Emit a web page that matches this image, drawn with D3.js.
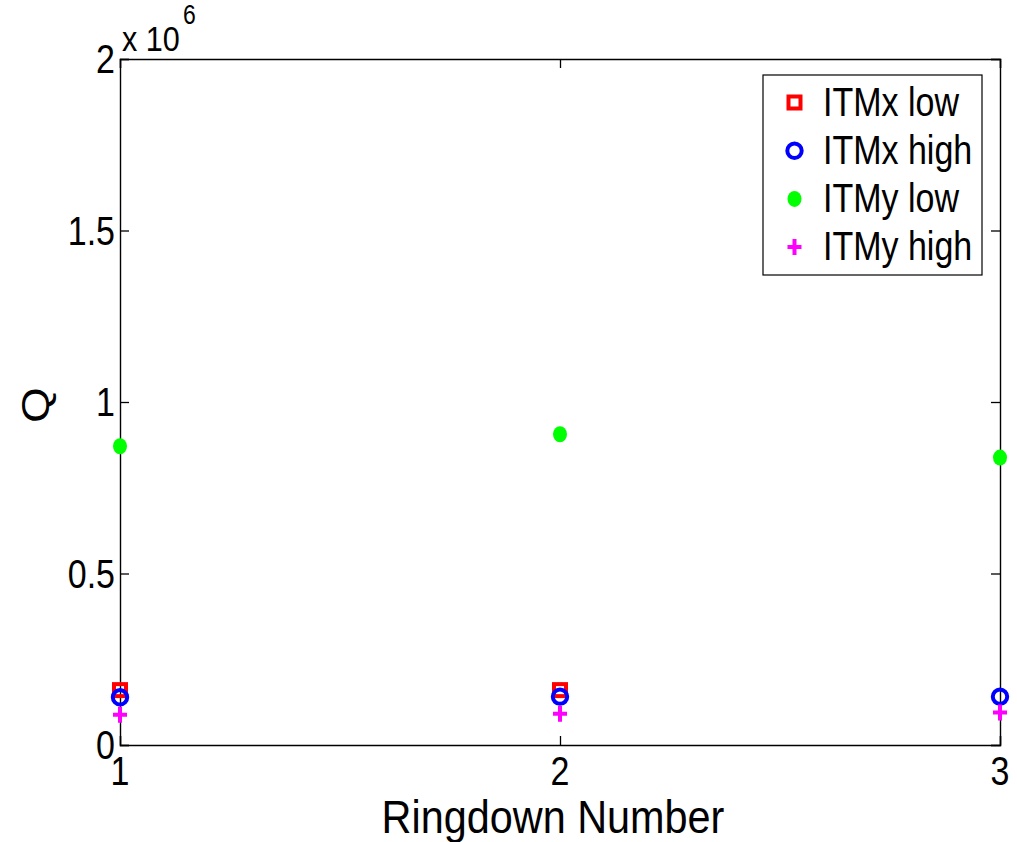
<!DOCTYPE html>
<html>
<head>
<meta charset="utf-8">
<script src="https://cdn.jsdelivr.net/npm/d3@7"></script>
<style>
  html, body { margin: 0; padding: 0; background: #fff; }
  svg { display: block; }
  text { font-family: "Liberation Sans", Arial, Helvetica, sans-serif; fill: #000; }
</style>
</head>
<body>
<svg id="chart" width="1017" height="842"></svg>
<script>
// Ringdown measurements of Q for each test-mass mode
const ringdowns = [1, 2, 3];
const itmxLow  = [0.160e6, 0.160e6, null];
const itmxHigh = [0.139e6, 0.141e6, 0.141e6];
const itmyLow  = [0.871e6, 0.906e6, 0.838e6];
const itmyHigh = [0.088e6, 0.091e6, 0.095e6];

const seriesNames = ["ITMx low", "ITMx high", "ITMy low", "ITMy high"];
const seriesColors = ["#ff0000", "#0000ff", "#00ff00", "#ff00ff"];
const seriesShapes = ["square", "circle", "dot", "plus"];
const seriesValues = [itmxLow, itmxHigh, itmyLow, itmyHigh];

const xTicks = [1, 2, 3];
const yTicks = [0, 0.5e6, 1e6, 1.5e6, 2e6];
const yTickLabels = ["0", "0.5", "1", "1.5", "2"];

const plot = { left: 120, right: 1000, top: 59, bottom: 745 };
const squeeze = 0.85; // horizontal narrowing of the typeface

const svg = d3.select("#chart");
const x = d3.scaleLinear().domain([1, 3]).range([plot.left, plot.right]);
const y = d3.scaleLinear().domain([0, 2e6]).range([plot.bottom, plot.top]);

function label(parent, px, py, str, size, anchor, rot, sx) {
  return parent.append("text")
    .attr("transform", `translate(${px},${py}) scale(${sx || squeeze},1)` + (rot ? ` rotate(${rot})` : ""))
    .attr("text-anchor", anchor || "start")
    .style("font-size", size + "px")
    .text(str);
}

// axes box with inward ticks on all four sides
const tickLen = 9;
const axBottom = d3.axisBottom(x).tickValues(xTicks).tickSize(-tickLen).tickFormat("");
const axTop = d3.axisTop(x).tickValues(xTicks).tickSize(-tickLen).tickFormat("");
const axLeft = d3.axisLeft(y).tickValues(yTicks).tickSize(-tickLen).tickFormat("");
const axRight = d3.axisRight(y).tickValues(yTicks).tickSize(-tickLen).tickFormat("");

function styleAxis(g) {
  g.selectAll("path.domain").attr("stroke", "#000").attr("stroke-width", 1.4);
  g.selectAll(".tick line").attr("stroke", "#000").attr("stroke-width", 1.3);
}
svg.append("g").attr("transform", `translate(0,${plot.bottom})`).call(axBottom).call(styleAxis);
svg.append("g").attr("transform", `translate(0,${plot.top})`).call(axTop).call(styleAxis);
svg.append("g").attr("transform", `translate(${plot.left},0)`).call(axLeft).call(styleAxis);
svg.append("g").attr("transform", `translate(${plot.right},0)`).call(axRight).call(styleAxis);

// tick labels
const tl = svg.append("g");
xTicks.forEach(t => label(tl, x(t), 785, String(t), 40, "middle"));
yTicks.forEach((t, i) => label(tl, 115, y(t) + 14, yTickLabels[i], 40, "end"));

// exponent multiplier
label(svg, 122, 51, "x 10", 36, "start");
label(svg, 183, 24, "6", 27, "start");

// axis titles
label(svg, (plot.left + plot.right) / 2 - 7, 833, "Ringdown Number", 46, "middle", null, 0.9);
label(svg, 49, 405, "Q", 46, "middle", -90);

// marker drawing
function drawMarker(g, shape, color, cx, cy) {
  if (shape === "square") {
    g.append("rect").attr("x", cx - 6).attr("y", cy - 6).attr("width", 12).attr("height", 12)
      .attr("fill", "none").attr("stroke", color).attr("stroke-width", 4);
  } else if (shape === "circle") {
    g.append("circle").attr("cx", cx).attr("cy", cy).attr("r", 7.2)
      .attr("fill", "none").attr("stroke", color).attr("stroke-width", 4);
  } else if (shape === "dot") {
    g.append("ellipse").attr("cx", cx).attr("cy", cy).attr("rx", 7).attr("ry", 8)
      .attr("fill", color);
  } else if (shape === "plus") {
    g.append("path").attr("d", `M${cx - 7},${cy}H${cx + 7}M${cx},${cy - 8}V${cy + 8}`)
      .attr("fill", "none").attr("stroke", color).attr("stroke-width", 4);
  }
}

const marks = svg.append("g");
seriesValues.forEach((vals, si) => {
  const g = marks.append("g").attr("class", "series");
  ringdowns.forEach((r, i) => {
    if (vals[i] == null) return;
    drawMarker(g, seriesShapes[si], seriesColors[si], x(r), y(vals[i]));
  });
});

// legend
const leg = svg.append("g");
leg.append("rect").attr("x", 763).attr("y", 75).attr("width", 219).attr("height", 200)
  .attr("fill", "#fff").attr("stroke", "#000").attr("stroke-width", 1.2);
seriesNames.forEach((name, i) => {
  const rowY = 102.5 + i * 48.2;
  drawMarker(leg, seriesShapes[i], seriesColors[i], 794.5, rowY);
  label(leg, 823, rowY + 13, name, 40, "start");
});
</script>
</body>
</html>
